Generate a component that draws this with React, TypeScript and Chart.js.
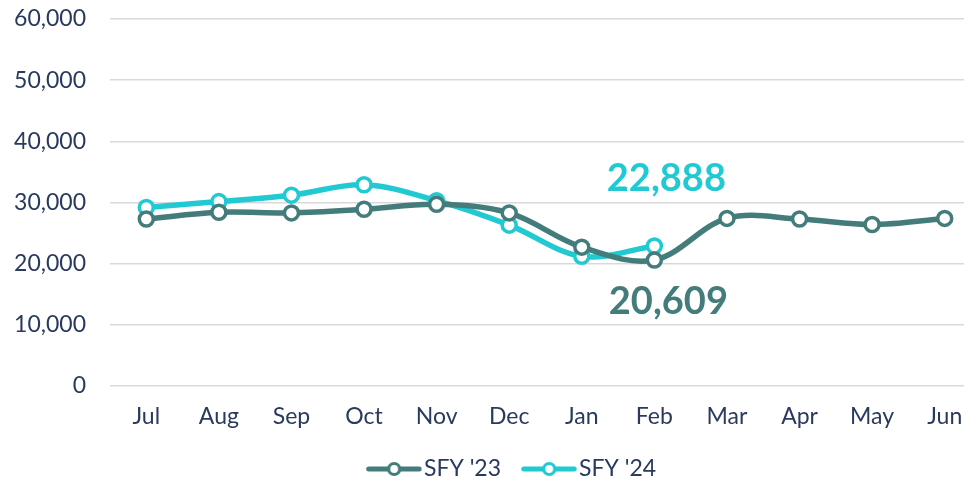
import React, { useEffect, useRef } from "react";
import { Chart, registerables } from "chart.js";

Chart.register(...registerables);

const months = ["Jul", "Aug", "Sep", "Oct", "Nov", "Dec", "Jan", "Feb", "Mar", "Apr", "May", "Jun"];
const sfy23 = [27300, 28400, 28300, 28900, 29700, 28300, 22700, 20609, 27400, 27300, 26400, 27400];
const sfy24 = [29200, 30150, 31200, 32900, 30300, 26300, 21200, 22888];
const yTicks = [0, 10000, 20000, 30000, 40000, 50000, 60000];

const C23 = "#437C7B";
const C24 = "#21C9D3";
const TEXT = "#2A3A5E";
const FONT = "Lato, 'DejaVu Sans', sans-serif";

function legendIcon(color: string): HTMLCanvasElement {
  const c = document.createElement("canvas");
  c.width = 64;
  c.height = 18;
  const ctx = c.getContext("2d")!;
  ctx.strokeStyle = color;
  ctx.lineWidth = 5;
  ctx.lineCap = "round";
  ctx.beginPath();
  ctx.moveTo(10.5, 9);
  ctx.lineTo(61, 9);
  ctx.stroke();
  ctx.beginPath();
  ctx.arc(36, 9, 5.5, 0, Math.PI * 2);
  ctx.fillStyle = "#fff";
  ctx.fill();
  ctx.lineWidth = 3.2;
  ctx.stroke();
  return c;
}

const labelPlugin = {
  id: "febLabels",
  afterDatasetsDraw(chart: any) {
    const ctx = chart.ctx;
    ctx.save();
    ctx.font = `bold 38px ${FONT}`;
    ctx.textAlign = "center";
    ctx.textBaseline = "middle";
    const m24 = chart.getDatasetMeta(1).data[7];
    const m23 = chart.getDatasetMeta(0).data[7];
    ctx.fillStyle = C24;
    ctx.fillText(sfy24[7].toLocaleString("en-US"), m24.x + 12, m24.y - 67);
    ctx.fillStyle = C23;
    ctx.fillText(sfy23[7].toLocaleString("en-US"), m23.x + 14, m23.y + 42);
    ctx.restore();
  },
};

export default function App() {
  const ref = useRef<HTMLCanvasElement>(null);
  useEffect(() => {
    document.body.style.margin = "0";
    const chart = new Chart(ref.current!, {
      type: "line",
      data: {
        labels: months,
        datasets: [
          {
            label: "SFY '23",
            data: sfy23,
            borderColor: C23,
            backgroundColor: "#fff",
            borderWidth: 5.5,
            pointRadius: 7,
            pointBorderWidth: 3.5,
            pointBackgroundColor: "#fff",
            pointBorderColor: C23,
            tension: 0.35,
          },
          {
            label: "SFY '24",
            data: sfy24,
            borderColor: C24,
            backgroundColor: "#fff",
            borderWidth: 5.5,
            pointRadius: 7,
            pointBorderWidth: 3.5,
            pointBackgroundColor: "#fff",
            pointBorderColor: C24,
            tension: 0.35,
          },
        ],
      },
      options: {
        animation: false,
        responsive: true,
        maintainAspectRatio: false,
        layout: { padding: { top: 19, left: 0, right: 0, bottom: -7.5 } },
        scales: {
          x: {
            offset: true,
            grid: { display: false, drawTicks: false },
            border: { display: false },
            ticks: { color: TEXT, font: { family: FONT, size: 23 }, padding: 17 },
            afterFit(s: any) { s.height = 49.5; s.paddingLeft = 0; s.paddingRight = 0; },
          },
          y: {
            min: 0,
            max: 60000,
            afterBuildTicks(s: any) { s.ticks = yTicks.map((v) => ({ value: v })); },
            grid: { color: "#D9D9D9", lineWidth: 1.5, drawTicks: false },
            border: { display: false },
            ticks: {
              color: TEXT,
              font: { family: FONT, size: 23 },
              padding: 24,
              callback: (v: any) => Number(v).toLocaleString("en-US"),
            },
            afterFit(s: any) { s.width = 110; s.paddingTop = 0; s.paddingBottom = 0; },
          },
          yRight: {
            position: "right",
            display: true,
            grid: { display: false, drawTicks: false },
            border: { display: false },
            ticks: { display: false },
            afterFit(s: any) { s.width = 43; s.paddingTop = 0; s.paddingBottom = 0; },
          },
        },
        plugins: {
          tooltip: { enabled: false },
          legend: {
            position: "bottom",
            labels: {
              color: TEXT,
              font: { family: FONT, size: 23 },
              usePointStyle: true,
              pointStyleWidth: 44.5,
              padding: 22,
              generateLabels: (ch: any) =>
                ch.data.datasets.map((d: any, i: number) => ({
                  text: d.label,
                  pointStyle: legendIcon(d.borderColor),
                  fillStyle: "#fff",
                  strokeStyle: d.borderColor,
                  lineWidth: 0,
                  datasetIndex: i,
                  fontColor: TEXT,
                })),
            },
          },
        },
      },
      plugins: [labelPlugin],
    });
    return () => chart.destroy();
  }, []);
  return (
    <div style={{ width: 964, height: 483, overflow: "hidden", position: "relative" }}>
      <div style={{ width: 1024, height: 483 }}>
        <canvas ref={ref} />
      </div>
    </div>
  );
}
